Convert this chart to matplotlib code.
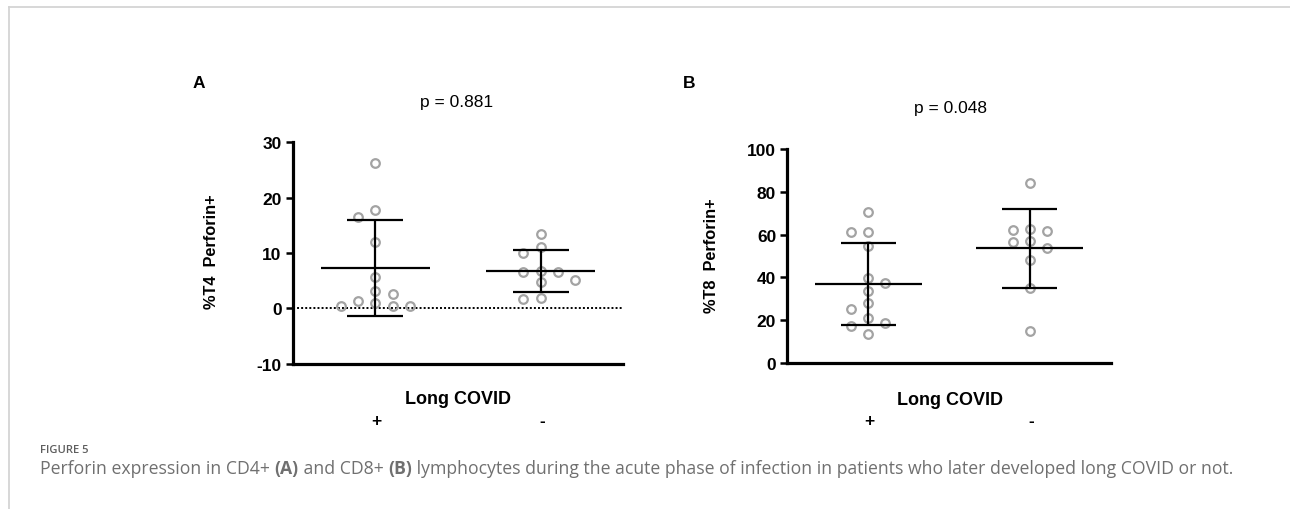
import numpy as np
import matplotlib
matplotlib.use("Agg")
import matplotlib.pyplot as plt
from matplotlib.lines import Line2D
import matplotlib.transforms as mtrans

# ---------------- data ----------------
groups = ["+", "-"]
t4_pos = [26.2, 17.8, 16.5, 11.9, 5.6, 3.1, 2.6, 1.4, 1.0, 0.5, 0.5, 0.5]
t4_neg = [13.5, 11.0, 10.0, 6.8, 6.6, 6.6, 5.2, 4.8, 1.9, 1.7]
t8_pos = [70.4, 61.4, 61.2, 54.8, 39.7, 37.2, 33.8, 27.9, 25.2, 20.9, 18.5, 17.3, 13.4]
t8_neg = [84.1, 62.8, 62.3, 61.8, 57.0, 56.4, 53.6, 48.0, 34.9, 15.0]
p_texts = ["p = 0.881", "p = 0.048"]
ylabels = ["%T4  Perforin+", "%T8  Perforin+"]
yticks_A = [-10, 0, 10, 20, 30]
yticks_B = [0, 20, 40, 60, 80, 100]
panel_letters = ["A", "B"]
xlabel = "Long COVID"
fig_label = "FIGURE 5"
caption_parts = [
    ("Perforin expression in CD4+ ", "normal"),
    ("(A)", "bold"),
    (" and CD8+ ", "normal"),
    ("(B)", "bold"),
    (" lymphocytes during the acute phase of infection in patients who later developed long COVID or not.", "normal"),
]

plt.rcParams["font.family"] = ["Liberation Sans", "DejaVu Sans"]

W, H = 1290, 510
fig = plt.figure(figsize=(W / 100, H / 100), dpi=100)


def fr(x0, y0, x1, y1):
    return [x0 / W, 1 - y1 / H, (x1 - x0) / W, (y1 - y0) / H]


def fx(x):
    return x / W


def fy(y):
    return 1 - y / H


axA = fig.add_axes(fr(292.7, 143.3, 623.3, 364.7))
axB = fig.add_axes(fr(787.3, 150, 1110.7, 364))

PT_COLOR = "#a3a3a3"


def style_axes(ax, ylim, yticks):
    ax.set_xlim(0.5, 2.5)
    ax.set_ylim(*ylim)
    ax.set_xticks([])
    ax.set_yticks(yticks)
    ax.set_yticklabels([str(t) for t in yticks], fontweight="bold", fontsize=12.5)
    for s in ["top", "right"]:
        ax.spines[s].set_visible(False)
    for s in ["left", "bottom"]:
        ax.spines[s].set_linewidth(2.3)
        ax.spines[s].set_capstyle("projecting")
    ax.tick_params(axis="y", direction="out", length=5, width=1.8, pad=3)
    ax.patch.set_alpha(0)


style_axes(axA, (-10, 30), yticks_A)
style_axes(axB, (0, 100), yticks_B)

axA.axhline(0, ls=(0, (1, 1.1)), lw=1.4, color="black", zorder=1)


def swarm_offsets(ax, values, step_px=17.3, diam_px=9.6):
    vals = np.asarray(values, float)
    y = ax.transData.transform(np.column_stack([np.zeros_like(vals), vals]))[:, 1]
    xscale = ax.transData.transform([[1, 0]])[0, 0] - ax.transData.transform([[0, 0]])[0, 0]
    placed = []
    offs = np.zeros(len(vals))
    nside = {-1: 0, 1: 0}
    for i in np.argsort(-vals, kind="stable"):
        found = None
        for level in range(0, 30):
            if level == 0:
                cands = [0]
            else:
                order = sorted([-1, 1], key=lambda s: (nside[s], s))
                cands = [s * level for s in order]
            for k in cands:
                xx = k * step_px
                if all(np.hypot(xx - px, y[i] - py) >= diam_px for px, py in placed):
                    found = k
                    break
            if found is not None:
                break
        placed.append((found * step_px, y[i]))
        offs[i] = found * step_px / xscale
        if found != 0:
            nside[int(np.sign(found))] += 1
    return offs


def draw_group(ax, xc, values):
    vals = np.asarray(values, float)
    offs = swarm_offsets(ax, vals)
    ax.plot(xc + offs, vals, "o", mfc="none", mec=PT_COLOR, ms=6.2, mew=1.6,
            zorder=2, clip_on=False)
    m = vals.mean()
    sd = vals.std(ddof=1)
    lw = 1.6
    ax.plot([xc - 0.33, xc + 0.33], [m, m], color="black", lw=lw, zorder=3,
            solid_capstyle="butt")
    ax.plot([xc, xc], [m - sd, m + sd], color="black", lw=lw, zorder=3,
            solid_capstyle="butt")
    for v in (m - sd, m + sd):
        ax.plot([xc - 0.17, xc + 0.17], [v, v], color="black", lw=lw, zorder=3,
                solid_capstyle="butt")


draw_group(axA, 1, t4_pos)
draw_group(axA, 2, t4_neg)
draw_group(axB, 1, t8_pos)
draw_group(axB, 2, t8_neg)

# texts for each panel
panel_specs = [
    (axA, 199, 84, 457, 102.7, 211.7, 252, 458, 400),
    (axB, 689, 84, 950, 108, 711.7, 256, 950.3, 400.7),
]
for i, (ax, lx, ly, px, py, ylx, yly, xlx, xly) in enumerate(panel_specs):
    fig.text(fx(lx), fy(ly), panel_letters[i], fontsize=12.5, fontweight="bold",
             ha="center", va="center")
    fig.text(fx(px), fy(py), p_texts[i], fontsize=12.5, ha="center", va="center")
    fig.text(fx(ylx), fy(yly), ylabels[i], fontsize=11.8, fontweight="bold",
             rotation=90, ha="center", va="center")
    fig.text(fx(xlx), fy(xly), xlabel, fontsize=13, fontweight="bold",
             ha="center", va="center")
    tr = mtrans.blended_transform_factory(ax.transData, fig.transFigure)
    for j, g in enumerate(groups):
        ax.text(j + 1 + 0.008, fy(421.7), g, transform=tr, fontsize=12.5,
                fontweight="bold", ha="center", va="center")

# figure frame (light gray)
fig.add_artist(Line2D([fx(9), 1], [fy(8), fy(8)], transform=fig.transFigure,
                      color="#d4d4d4", lw=1.3))
fig.add_artist(Line2D([fx(9), fx(9)], [fy(8), 0], transform=fig.transFigure,
                      color="#d4d4d4", lw=1.3))

# caption
renderer = fig.canvas.get_renderer()
cap_family = ["Open Sans", "DejaVu Sans"]
figtxt = fig.text(fx(40), fy(451), fig_label, fontsize=9, fontweight="semibold",
                  color="#5e5e5e", family=cap_family, ha="left", va="center")
w = figtxt.get_window_extent(renderer).width
figtxt.set_fontsize(9 * 49 / w)

fs0 = 10
texts = []
for txt, wt in caption_parts:
    t = fig.text(fx(40), fy(469), txt, fontsize=fs0, fontweight=wt,
                 color="#707070", family=cap_family, ha="left", va="center")
    texts.append(t)
total = sum(t.get_window_extent(renderer).width for t in texts)
fs = fs0 * (1228 - 40) / total
for t in texts:
    t.set_fontsize(fs)
xcur = 40
for t in texts:
    t.set_x(fx(xcur))
    xcur += t.get_window_extent(renderer).width

fig.savefig("out.png", dpi=100)
